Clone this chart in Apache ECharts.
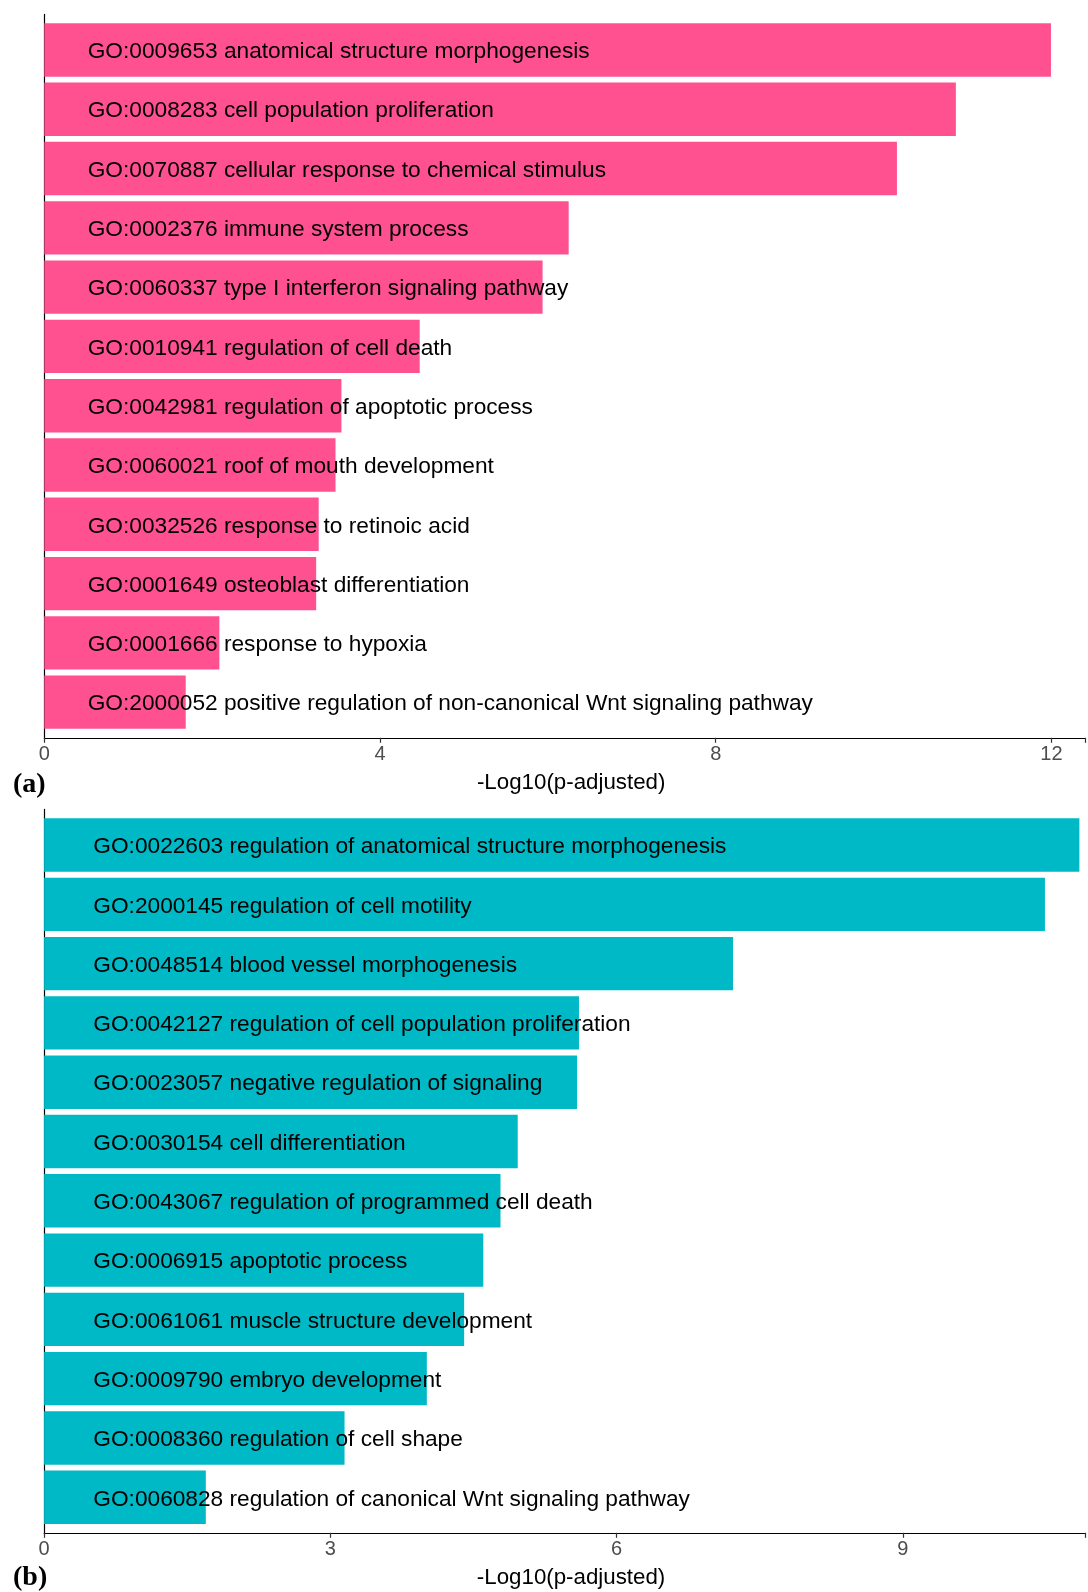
<!DOCTYPE html>
<html>
<head>
<meta charset="utf-8">
<script src="https://cdn.jsdelivr.net/npm/echarts@6/dist/echarts.min.js"></script>
<style>
html,body{margin:0;padding:0;background:#fff;}
#chart{width:1088px;height:1592px;}
</style>
</head>
<body>
<div id="chart"></div>
<script>
const categoriesA = [
  "GO:0009653 anatomical structure morphogenesis",
  "GO:0008283 cell population proliferation",
  "GO:0070887 cellular response to chemical stimulus",
  "GO:0002376 immune system process",
  "GO:0060337 type I interferon signaling pathway",
  "GO:0010941 regulation of cell death",
  "GO:0042981 regulation of apoptotic process",
  "GO:0060021 roof of mouth development",
  "GO:0032526 response to retinoic acid",
  "GO:0001649 osteoblast differentiation",
  "GO:0001666 response to hypoxia",
  "GO:2000052 positive regulation of non-canonical Wnt signaling pathway"
];
const valuesA = [11.96, 10.83, 10.13, 6.23, 5.92, 4.46, 3.53, 3.46, 3.26, 3.23, 2.08, 1.68];

const categoriesB = [
  "GO:0022603 regulation of anatomical structure morphogenesis",
  "GO:2000145 regulation of cell motility",
  "GO:0048514 blood vessel morphogenesis",
  "GO:0042127 regulation of cell population proliferation",
  "GO:0023057 negative regulation of signaling",
  "GO:0030154 cell differentiation",
  "GO:0043067 regulation of programmed cell death",
  "GO:0006915 apoptotic process",
  "GO:0061061 muscle structure development",
  "GO:0009790 embryo development",
  "GO:0008360 regulation of cell shape",
  "GO:0060828 regulation of canonical Wnt signaling pathway"
];
const valuesB = [10.82, 10.46, 7.20, 5.59, 5.57, 4.95, 4.77, 4.59, 4.39, 4.00, 3.14, 1.69];

const tickIntervalA = 4;
const tickIntervalB = 3;
const axisMaxA = 12.40;
const axisMaxB = 10.91;
const axisTitle = "-Log10(p-adjusted)";
const panelLabels = ["(a)", "(b)"];

const colorA = "#FF5190";
const colorB = "#00B9C6";
const sans = "'Liberation Sans', Arial, sans-serif";
const serif = "'Liberation Serif', 'DejaVu Serif', serif";

const chart = echarts.init(document.getElementById('chart'), null, {renderer: 'canvas'});

function tickFmt(interval) {
  return function (v) {
    const r = v / interval;
    return Math.abs(r - Math.round(r)) < 1e-6 ? String(Math.round(v)) : '';
  };
}

const frameX = (max, interval) => ({
  type: 'value', min: 0, max: max, interval: interval,
  axisLine: {show: true, lineStyle: {color: '#000', width: 1.2}},
  axisTick: {show: true, length: 5, lineStyle: {color: '#333', width: 1.2}},
  axisLabel: {show: true, color: '#4D4D4D', fontFamily: sans, fontSize: 20, margin: 7, formatter: tickFmt(interval)},
  splitLine: {show: false},
  name: axisTitle, nameLocation: 'middle', nameGap: 34,
  nameTextStyle: {color: '#000', fontFamily: sans, fontSize: 22.3, padding: [0, 0, 0, 13]}
});
const hiddenX = (max) => ({type: 'value', min: 0, max: max, show: false, splitLine: {show: false}});
const frameY = () => ({
  type: 'value', min: 0, max: 1,
  axisLine: {show: true, lineStyle: {color: '#000', width: 1.2}},
  axisTick: {show: false}, axisLabel: {show: false}, splitLine: {show: false}
});
const catY = (cats) => ({type: 'category', data: cats, inverse: true, show: false});

const barSeries = (vals, color, xi, yi, dist) => ({
  type: 'bar', data: vals, xAxisIndex: xi, yAxisIndex: yi,
  barCategoryGap: '10%',
  itemStyle: {color: color},
  silent: true,
  label: {
    show: true, position: 'insideLeft', distance: dist, offset: [0, 2],
    formatter: '{b}', color: '#000', fontFamily: sans, fontSize: 22.7
  },
  z: 2
});

chart.setOption({
  animation: false,
  backgroundColor: '#fff',
  title: [
    {text: panelLabels[0], left: 8, top: 766, textStyle: {fontFamily: serif, fontWeight: 'bold', fontSize: 28, color: '#000'}},
    {text: panelLabels[1], left: 8, top: 1559, textStyle: {fontFamily: serif, fontWeight: 'bold', fontSize: 28, color: '#000'}}
  ],
  grid: [
    {left: 44.3, right: 0, top: 20.3, height: 711.5},
    {left: 44.3, right: 0, top: 14.4, height: 723.4},
    {left: 44.1, right: 0, top: 815.4, height: 711.5},
    {left: 44.1, right: 0, top: 809.4, height: 723.4}
  ],
  xAxis: [
    Object.assign(hiddenX(axisMaxA), {gridIndex: 0}),
    Object.assign(frameX(axisMaxA, tickIntervalA), {gridIndex: 1}),
    Object.assign(hiddenX(axisMaxB), {gridIndex: 2}),
    Object.assign(frameX(axisMaxB, tickIntervalB), {gridIndex: 3})
  ],
  yAxis: [
    Object.assign(catY(categoriesA), {gridIndex: 0}),
    Object.assign(frameY(), {gridIndex: 1}),
    Object.assign(catY(categoriesB), {gridIndex: 2}),
    Object.assign(frameY(), {gridIndex: 3})
  ],
  series: [
    barSeries(valuesA, colorA, 0, 0, 43.4),
    barSeries(valuesB, colorB, 2, 2, 49.2)
  ]
});
</script>
</body>
</html>
